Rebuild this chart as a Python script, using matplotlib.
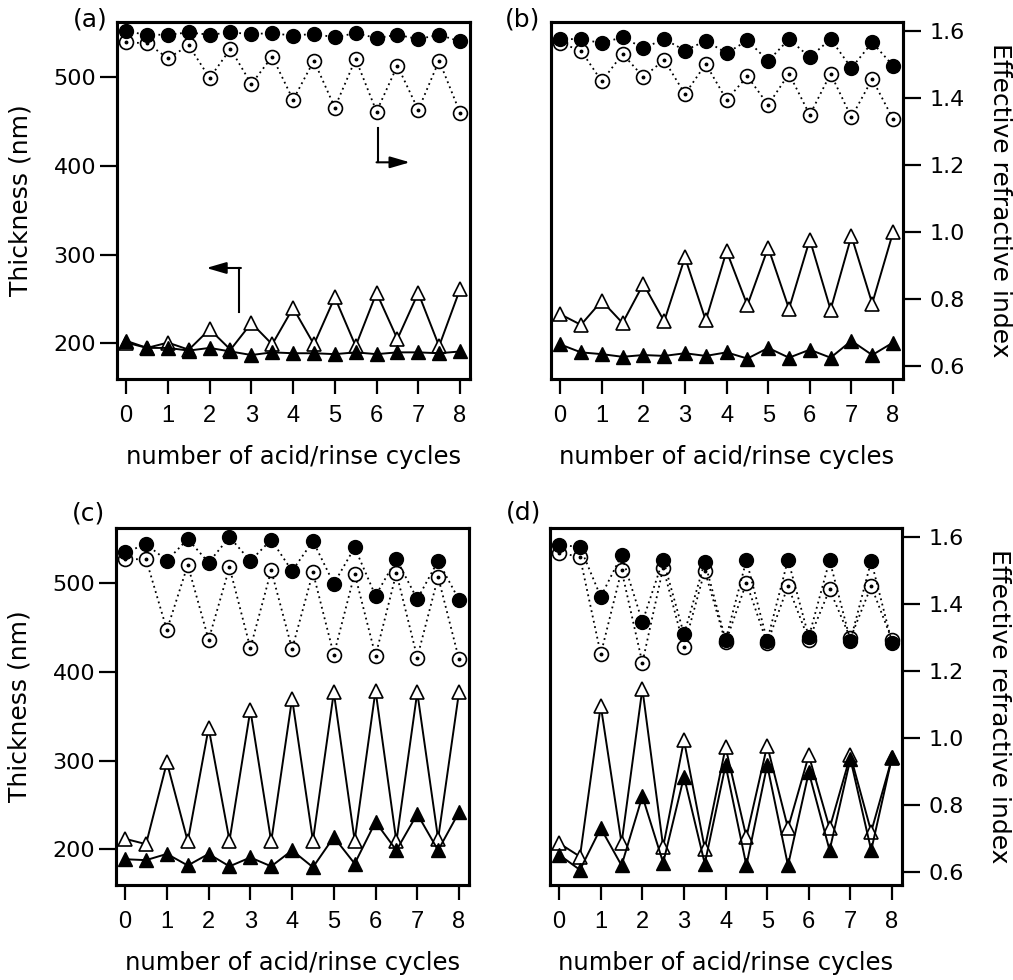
import numpy as np
import matplotlib
matplotlib.use("Agg")
import matplotlib.pyplot as plt

cycles = [0, 0.5, 1, 1.5, 2, 2.5, 3, 3.5, 4, 4.5, 5, 5.5, 6, 6.5, 7, 7.5, 8]
x_ticks = [0, 1, 2, 3, 4, 5, 6, 7, 8]
thick_ticks = [200, 300, 400, 500]
n_ticks = [0.6, 0.8, 1.0, 1.2, 1.4, 1.6]
panel_labels = ["(a)", "(b)", "(c)", "(d)"]

# refractive index (right axis) - filled and open circles
n_filled_a = [1.598, 1.588, 1.588, 1.595, 1.588, 1.595, 1.590, 1.593, 1.585, 1.591, 1.580, 1.593, 1.578, 1.588, 1.575, 1.588, 1.568]
n_open_a = [1.565, 1.563, 1.518, 1.556, 1.459, 1.546, 1.441, 1.523, 1.394, 1.511, 1.371, 1.516, 1.359, 1.496, 1.364, 1.511, 1.356]
n_filled_b = [1.575, 1.575, 1.563, 1.581, 1.548, 1.575, 1.541, 1.570, 1.533, 1.571, 1.510, 1.575, 1.521, 1.575, 1.489, 1.565, 1.496]
n_open_b = [1.563, 1.541, 1.449, 1.531, 1.462, 1.513, 1.411, 1.501, 1.394, 1.464, 1.379, 1.472, 1.349, 1.472, 1.342, 1.456, 1.337]
n_filled_c = [1.553, 1.578, 1.529, 1.593, 1.523, 1.599, 1.528, 1.591, 1.498, 1.587, 1.460, 1.568, 1.424, 1.533, 1.414, 1.528, 1.412]
n_open_c = [1.533, 1.533, 1.322, 1.516, 1.293, 1.509, 1.268, 1.500, 1.265, 1.494, 1.248, 1.490, 1.245, 1.492, 1.240, 1.480, 1.235]
n_filled_d = [1.575, 1.570, 1.421, 1.545, 1.346, 1.532, 1.309, 1.525, 1.292, 1.530, 1.290, 1.532, 1.301, 1.530, 1.290, 1.528, 1.284]
n_open_d = [1.552, 1.540, 1.250, 1.500, 1.224, 1.508, 1.272, 1.499, 1.285, 1.463, 1.282, 1.453, 1.292, 1.443, 1.297, 1.453, 1.292]

# thickness (left axis) - filled and open triangles
t_open_a = [201, 195, 201, 193, 216, 193, 223, 199, 240, 199, 252, 197, 257, 205, 257, 197, 261]
t_filled_a = [203, 195, 195, 192, 195, 191, 187, 190, 189, 189, 188, 190, 188, 190, 190, 189, 191]
t_open_b = [233, 221, 248, 223, 267, 225, 297, 226, 304, 243, 308, 239, 317, 238, 321, 245, 325]
t_filled_b = [199, 190, 188, 185, 187, 186, 189, 186, 190, 183, 195, 184, 193, 184, 203, 187, 201]
t_open_c = [212, 206, 298, 209, 337, 210, 357, 209, 370, 210, 377, 210, 379, 209, 377, 212, 377]
t_filled_c = [189, 188, 195, 182, 195, 181, 191, 181, 199, 180, 214, 184, 231, 199, 240, 199, 242]
t_open_d = [207, 192, 362, 207, 381, 203, 323, 201, 315, 214, 317, 224, 306, 224, 306, 220, 303]
t_filled_d = [194, 177, 224, 182, 260, 185, 282, 184, 295, 182, 295, 182, 287, 199, 302, 199, 304]

n_filled = [n_filled_a, n_filled_b, n_filled_c, n_filled_d]
n_open = [n_open_a, n_open_b, n_open_c, n_open_d]
t_filled = [t_filled_a, t_filled_b, t_filled_c, t_filled_d]
t_open = [t_open_a, t_open_b, t_open_c, t_open_d]

label_font = ["DejaVu Sans"]
narrow_font = ["Liberation Sans Narrow", "DejaVu Sans Condensed", "Liberation Sans", "DejaVu Sans"]

W, H = 1013, 980
fig = plt.figure(figsize=(W / 100, H / 100), dpi=100)

boxes = [(117, 22, 470, 379), (551, 22, 903, 379), (116, 528, 469, 885), (550, 528, 902, 885)]
label_pos = [(90, 20), (523, 20), (88, 513), (524, 512)]

for i, (x0, y0, x1, y1) in enumerate(boxes):
    ax = fig.add_axes([x0 / W, 1 - y1 / H, (x1 - x0) / W, (y1 - y0) / H])
    ax2 = ax.twinx()
    ax.set_xlim(-0.22, 8.24)
    ax.set_ylim(160, 562)
    ax2.set_ylim(0.562, 1.626)
    ax.set_zorder(ax2.get_zorder() + 1)
    ax.patch.set_visible(False)

    dot = (0, (1, 2.0))
    # circles on refractive index axis
    ax2.plot(cycles, n_open[i], linestyle=dot, color="black", lw=1.3, marker="o",
             ms=10, mfc="white", mec="black", mew=1.2, zorder=2)
    ax2.plot(cycles, n_open[i], linestyle="none", marker="o", ms=1.8, color="black", zorder=3)
    ax2.plot(cycles, n_filled[i], linestyle=dot, color="black", lw=1.3, marker="o",
             ms=10, mfc="black", mec="black", zorder=4)
    # triangles on thickness axis
    ax.plot(cycles, t_open[i], linestyle="-", color="black", lw=1.4, marker="^",
            ms=9.5, mfc="white", mec="black", mew=1.2, zorder=2)
    ax.plot(cycles, t_filled[i], linestyle="-", color="black", lw=1.4, marker="^",
            ms=9.5, mfc="black", mec="black", zorder=3)

    for a in (ax, ax2):
        for s in a.spines.values():
            s.set_linewidth(2.2)
    ax.set_xticks(x_ticks)
    ax.set_xticklabels([str(v) for v in x_ticks], fontfamily=narrow_font, fontsize=17)
    ax.tick_params(axis="x", direction="out", length=11, width=1.6, pad=8)
    ax.set_xlabel("number of acid/rinse cycles", fontfamily=label_font, fontsize=17.5, labelpad=13)

    if i % 2 == 0:
        ax.set_yticks(thick_ticks)
        ax.set_yticklabels([str(v) for v in thick_ticks], fontfamily=label_font, fontsize=16)
        ax.tick_params(axis="y", direction="out", length=12, width=1.6, pad=3)
        ax.set_ylabel("Thickness (nm)", fontfamily=label_font, fontsize=18, labelpad=15)
        ax2.set_yticks([])
    else:
        ax.set_yticks([])
        ax2.set_yticks(n_ticks)
        ax2.set_yticklabels([f"{v:.1f}" for v in n_ticks], fontfamily=label_font, fontsize=16)
        ax2.tick_params(axis="y", direction="out", length=13, width=1.6, pad=6)
        ax2.set_ylabel("Effective refractive index", fontfamily=label_font, fontsize=18,
                       rotation=270, labelpad=34)

    lx, ly = label_pos[i]
    fig.text(lx / W, 1 - ly / H, panel_labels[i], fontfamily=label_font,
             fontsize=18, ha="center", va="center")

    if i == 0:
        ax.plot([6.04, 6.04], [443, 404], color="black", lw=1.5)
        ax.annotate("", xy=(6.8, 404), xytext=(6.0, 404),
                    arrowprops=dict(arrowstyle="-|>,head_length=1.2,head_width=0.35",
                                    color="black", lw=1.5, shrinkA=0, shrinkB=0))
        ax.plot([2.71, 2.71], [235, 285], color="black", lw=1.5)
        ax.annotate("", xy=(1.92, 285), xytext=(2.75, 285),
                    arrowprops=dict(arrowstyle="-|>,head_length=1.2,head_width=0.35",
                                    color="black", lw=1.5, shrinkA=0, shrinkB=0))

fig.savefig("out.png", dpi=100)
